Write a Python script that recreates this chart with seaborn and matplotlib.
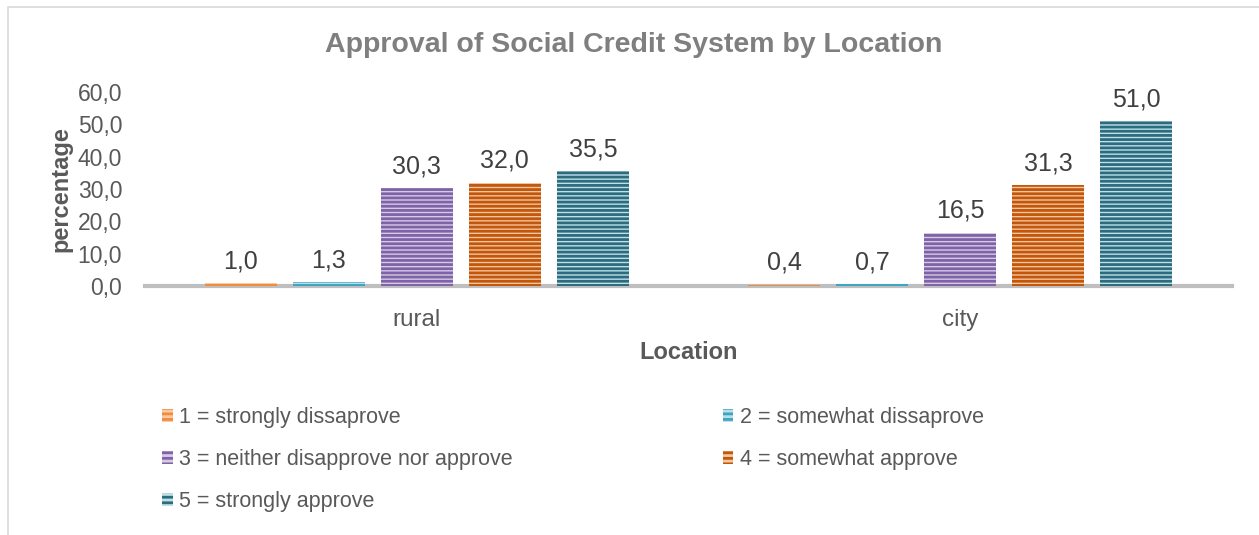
import matplotlib
matplotlib.use("Agg")
import matplotlib.pyplot as plt
from matplotlib.patches import Patch, Rectangle
import seaborn as sns
import pandas as pd

locations = ["rural", "city"]
ratings = [
    "1 = strongly dissaprove",
    "2 = somewhat dissaprove",
    "3 = neither disapprove nor approve",
    "4 = somewhat approve",
    "5 = strongly approve",
]
rural_values = [1.0, 1.3, 30.3, 32.0, 35.5]
city_values = [0.4, 0.7, 16.5, 31.3, 51.0]
y_ticks = [0, 10, 20, 30, 40, 50, 60]

# light fill / dark stripe pairs per rating
fill_colors = ["#F9C9A3", "#B9E0EA", "#D6CBE3", "#F6C49C", "#BFE0E8"]
stripe_colors = ["#F28C3C", "#3FA4C0", "#7F63A8", "#C0570C", "#2C6C7E"]

rows = []
for loc, vals in zip(locations, [rural_values, city_values]):
    for r, v in zip(ratings, vals):
        rows.append({"Location": loc, "rating": r, "percentage": v})
df = pd.DataFrame(rows)

sns.set_theme(style="white")
plt.rcParams["font.family"] = ["Liberation Sans", "DejaVu Sans"]
plt.rcParams["hatch.linewidth"] = 2.0
text_gray = "#595959"

fig = plt.figure(figsize=(12.59, 5.35), dpi=100)
ax = fig.add_axes([0.1152, 0.4654, 0.8634, 0.3626])

sns.barplot(data=df, x="Location", y="percentage", hue="rating",
            hue_order=ratings, order=locations, palette=fill_colors,
            width=0.81, gap=0.18, legend=False, ax=ax, saturation=1)

for cont, stripe, vals in zip(ax.containers, stripe_colors,
                              zip(rural_values, city_values)):
    for bar in cont:
        bar.set_hatch("----")
        bar.set_edgecolor(stripe)
        bar.set_linewidth(0)
        bar.set_zorder(3)
    ax.bar_label(cont, labels=[f"{v:.1f}".replace(".", ",") for v in vals],
                 padding=7, fontsize=18, color="#404040")

ax.set_ylim(0, 60)
ax.set_xlim(-0.5, 1.5)
ax.set_yticks(y_ticks)
ax.set_yticklabels([f"{t:.1f}".replace(".", ",") for t in y_ticks])
ax.tick_params(axis="both", length=0, labelcolor=text_gray)
ax.tick_params(axis="x", pad=16.5, labelsize=17.5)
ax.tick_params(axis="y", pad=16.5, labelsize=16.5)

for side in ["left", "right", "top"]:
    ax.spines[side].set_visible(False)
ax.spines["bottom"].set_color("#BFBFBF")
ax.spines["bottom"].set_linewidth(3)
ax.spines["bottom"].set_zorder(2)

ax.set_ylabel("percentage", fontsize=17, fontweight="bold", color=text_gray,
              labelpad=4)
ax.set_xlabel("Location", fontsize=17, fontweight="bold", color=text_gray,
              labelpad=7)

fig.text(0.503, 0.915, "Approval of Social Credit System by Location",
         ha="center", va="center", fontsize=20.5, fontweight="bold",
         color="#7F7F7F")

handles = [Patch(facecolor=f, edgecolor=s, hatch="---", linewidth=0)
           for f, s in zip(fill_colors, stripe_colors)]
order = [0, 2, 4, 1, 3]
leg = fig.legend([handles[i] for i in order], [ratings[i] for i in order],
                 ncol=2, loc="upper left", bbox_to_anchor=(0.1136, 0.275),
                 frameon=False, fontsize=15.5, handlelength=0.5,
                 handleheight=0.5, handletextpad=0.28, labelspacing=0.97,
                 columnspacing=9.75)
for t in leg.get_texts():
    t.set_color(text_gray)

fig.patches.append(Rectangle((8 / 1259, -0.05), 1.2, 1 - 7 / 535 + 0.05,
                             transform=fig.transFigure, fill=False,
                             edgecolor="#D9D9D9", linewidth=1.2))

fig.savefig("out.png", dpi=100)
